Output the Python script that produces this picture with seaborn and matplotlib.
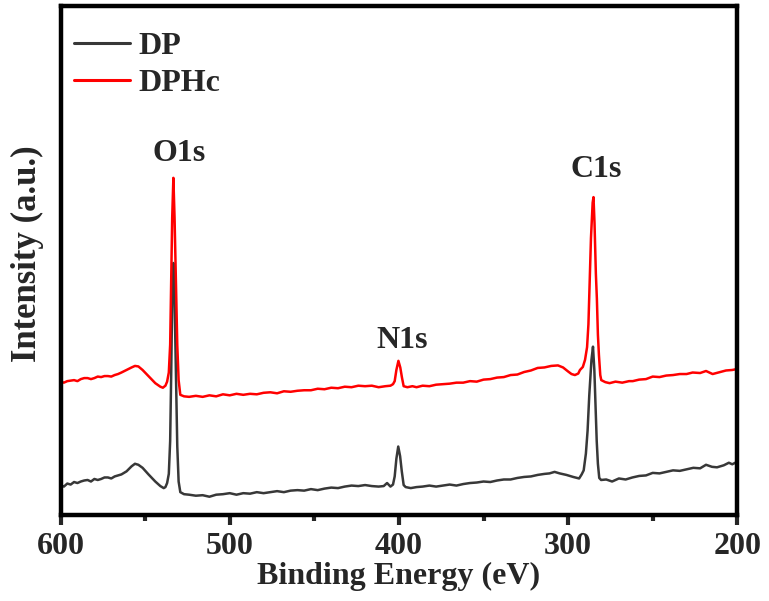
import matplotlib
matplotlib.use("Agg")
import matplotlib.pyplot as plt
import seaborn as sns
import pandas as pd
from matplotlib.ticker import MultipleLocator, NullLocator

# ---------------- data ----------------
dp_energy = [600, 598, 596, 594, 592, 590, 588, 586, 584, 582, 580, 578, 576, 574, 572, 570,
             568, 566, 564, 561, 558, 556, 554, 551.5,
             548, 544, 541, 539, 538, 537, 536, 535.2, 534.6, 534.0, 533.3, 532.6, 531.8,
             531.0, 530.2, 529.2, 527, 524, 520, 516, 512, 508, 504, 500, 496, 492, 488,
             484, 480, 476, 472, 468, 464, 460, 456, 452, 448, 444, 440, 436, 432, 428,
             424, 420, 416, 412, 409, 407, 405, 403.5, 402.5, 401.5, 400.4, 399.3, 398.3,
             397.2, 396, 393, 389.6, 386, 382, 378, 374, 370, 366, 362, 358, 354, 350,
             346, 342, 338, 334, 330, 326, 322, 318, 314, 311, 308, 305, 301, 297, 293.5,
             292, 290.8, 289.5, 288.5, 287.5, 286.2, 285.3, 284.5, 283.8, 283.1, 282.4,
             281.6, 280.5, 277.5, 274, 270, 266, 262, 258, 254, 250, 246, 242, 238, 234,
             230, 226, 222, 218.5, 215, 212, 208, 205, 203, 200]
dp_intensity = [5.3, 5.0, 5.6, 5.4, 5.9, 5.7, 6.0, 6.2, 6.3, 6.0, 6.5, 6.3, 6.5, 6.8, 6.8, 6.6,
                7.0, 7.2, 7.4, 8.0, 9.0, 9.5, 9.3, 8.7,
                7.4, 6.0, 5.1, 4.7, 4.9, 5.7, 7.5, 14, 27, 42, 49.1, 42, 27,
                13, 6, 3.9, 3.5, 3.4, 3.2, 3.3, 3.0, 3.4, 3.5, 3.7, 3.4, 3.7, 3.6,
                3.9, 3.7, 3.9, 4.1, 3.9, 4.2, 4.3, 4.2, 4.5, 4.3, 4.6, 4.8, 4.7, 5.0, 5.2,
                5.1, 5.3, 5.1, 5.0, 5.1, 5.7, 5.0, 5.4, 7.0, 10.5, 12.9, 11.0, 8.0,
                5.3, 4.9, 4.7, 4.9, 5.0, 5.2, 5.0, 5.2, 5.4, 5.2, 5.5, 5.7, 5.8, 6.0,
                5.9, 6.2, 6.4, 6.4, 6.7, 6.9, 7.0, 7.3, 7.5, 7.6, 7.9, 7.6, 7.3, 6.9, 6.6,
                7.4, 8.2, 11.5, 16, 23, 30, 32.6, 28, 21, 14, 9.5,
                6.7, 6.3, 6.4, 6.0, 6.6, 6.4, 6.8, 7.1, 7.2, 7.7, 7.6, 7.9, 8.2, 8.1,
                8.4, 8.7, 8.6, 9.3, 8.9, 8.8, 9.2, 9.7, 9.4, 9.9]

dphc_energy = [600, 598, 596, 594, 592, 590, 588, 586, 584, 582, 580, 578, 576, 574, 572, 570,
               568, 566, 564, 561, 558, 556, 554, 551.5,
               548, 544, 541, 539.5, 538, 537, 536, 535.2, 534.6, 534.0, 533.3, 532.6, 531.8,
               531.0, 530.2, 529.2, 527, 524, 520, 516, 512, 508, 504, 500, 496, 492, 488,
               484, 480, 476, 472, 468, 464, 460, 456, 452, 448, 444, 440, 436, 432, 428,
               424, 420, 416, 412, 408, 405, 403.5, 402.5, 401.5, 400.3, 399.2, 398.2, 397.2,
               395, 392, 389.6, 386, 382, 378, 374, 370, 366, 362, 358, 354, 350, 346, 342,
               338, 334, 330, 326, 322, 318, 314, 310, 306, 303, 300, 298, 296, 294, 293,
               291.3, 290, 288.8, 288.0, 287.3, 286.5, 285.5, 285.0, 284.4, 283.6, 283.0,
               282.4, 281.8, 281.0, 280.4, 278, 275.5, 272, 268, 264, 261.8, 258, 254, 250,
               246, 242, 238, 234, 230, 226.4, 222, 218.5, 214.6, 210, 206.7, 203, 200]
dphc_intensity = [25.7, 25.5, 25.8, 25.9, 26.0, 25.8, 26.2, 26.4, 26.4, 26.2, 26.4, 26.7, 26.6, 26.8, 26.8, 26.7,
                  27.0, 27.2, 27.5, 28.0, 28.5, 28.8, 28.7, 28.0,
                  26.8, 25.4, 24.7, 24.5, 24.9, 25.7, 27.5, 33, 45, 58, 65.9, 58, 45,
                  33, 26, 23.1, 22.8, 22.7, 22.9, 22.7, 23.0, 22.8, 23.2, 23.0, 23.3, 23.1, 23.3,
                  23.2, 23.5, 23.6, 23.4, 23.8, 23.7, 23.9, 24.0, 24.0, 24.3, 24.2, 24.5, 24.4, 24.7, 24.6,
                  24.9, 24.8, 24.9, 24.6, 24.8, 24.9, 25.2, 25.8, 28.0, 29.8, 28.5, 26.5, 24.8,
                  24.6, 24.8, 24.6, 24.9, 24.8, 25.1, 25.2, 25.3, 25.5, 25.5, 25.8, 25.7, 26.1, 26.2, 26.5,
                  26.6, 27.0, 27.1, 27.6, 27.9, 28.4, 28.5, 28.8, 28.9, 28.5, 27.7, 27.2, 27.0, 27.3, 28.0,
                  28.6, 30, 32.5, 37, 45, 54, 61, 62.1, 57, 47, 42,
                  35, 31, 27, 26.0, 25.6, 25.4, 25.7, 25.5, 25.8, 25.8, 26.1, 26.2, 26.7,
                  26.6, 26.9, 27.0, 27.2, 27.2, 27.5, 27.4, 27.8, 27.2, 27.6, 27.9, 28.0, 28.2]

series_names = ["DP", "DPHc"]
series_colors = ["#383838", "#ff0000"]
peak_labels = ["O1s", "N1s", "C1s"]
peak_label_energy = [529.8, 398.2, 283.2]
peak_label_height = [70.8, 33.9, 67.5]
x_ticks = [600, 500, 400, 300, 200]

# ---------------- figure ----------------
sns.set_theme(style="white")
plt.rcParams["font.family"] = ["Liberation Serif", "DejaVu Serif"]
plt.rcParams["font.weight"] = "bold"

df = pd.concat([
    pd.DataFrame({"energy": dp_energy, "intensity": dp_intensity, "sample": series_names[0]}),
    pd.DataFrame({"energy": dphc_energy, "intensity": dphc_intensity, "sample": series_names[1]}),
], ignore_index=True)

fig = plt.figure(figsize=(7.69, 6.01), dpi=100)
ax = fig.add_axes([0.0787, 0.1423, 0.9588 - 0.0787, 0.9892 - 0.1423])

sns.lineplot(data=df, x="energy", y="intensity", hue="sample", hue_order=series_names,
             palette=dict(zip(series_names, series_colors)), estimator=None, sort=False,
             linewidth=1.8, ax=ax, legend=True)

ax.set_xlim(600, 200)
ax.set_ylim(-0.7, 99.7)
ax.set_xticks(x_ticks)
ax.xaxis.set_minor_locator(MultipleLocator(50))
ax.yaxis.set_major_locator(NullLocator())
ax.tick_params(axis="x", which="major", direction="out", length=7, width=3.0,
               labelsize=23, pad=5, bottom=True, top=False)
ax.tick_params(axis="x", which="minor", direction="out", length=4, width=3.0,
               bottom=True, top=False)
for lab in ax.get_xticklabels():
    lab.set_fontweight("bold")

for sp in ax.spines.values():
    sp.set_linewidth(3.2)
    sp.set_color("black")
    sp.set_visible(True)

ax.set_xlabel("Binding Energy (eV)", fontsize=23, fontweight="bold")
ax.xaxis.set_label_coords(0.5, -0.092)
ax.set_ylabel("Intensity (a.u.)", fontsize=25, fontweight="bold")
ax.yaxis.set_label_coords(-0.024, 0.514)

for name, ex, ey in zip(peak_labels, peak_label_energy, peak_label_height):
    ax.text(ex, ey, name, fontsize=23, fontweight="bold", ha="center", va="center")

leg = ax.legend(loc="upper left", bbox_to_anchor=(0.0206, 0.951), frameon=False,
                prop={"family": "Liberation Serif", "weight": "bold", "size": 23},
                handlelength=1.75, handletextpad=0.25, labelspacing=0.26,
                borderpad=0, borderaxespad=0)
for line in leg.get_lines():
    line.set_linewidth(2.2)

fig.savefig("out.png", dpi=100)
